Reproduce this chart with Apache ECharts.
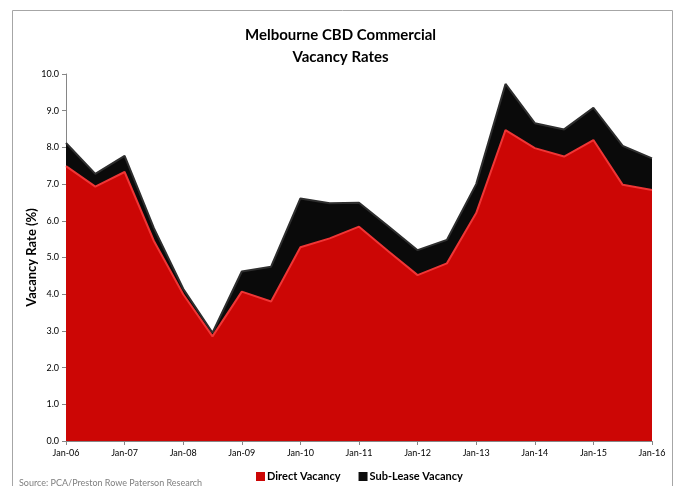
<!DOCTYPE html>
<html><head><meta charset="utf-8">
<script src="https://cdn.jsdelivr.net/npm/echarts@6/dist/echarts.min.js"></script>
<style>html,body{margin:0;padding:0;background:#fff}#c{width:681px;height:486px}</style>
</head><body><div id="c"></div>
<script>
const categories = ["Jan-06","Jul-06","Jan-07","Jul-07","Jan-08","Jul-08","Jan-09","Jul-09","Jan-10","Jul-10","Jan-11","Jul-11","Jan-12","Jul-12","Jan-13","Jul-13","Jan-14","Jul-14","Jan-15","Jul-15","Jan-16"];
const directVacancy = [7.49, 6.93, 7.33, 5.45, 4.0, 2.85, 4.07, 3.80, 5.28, 5.52, 5.84, 5.17, 4.52, 4.84, 6.21, 8.47, 7.98, 7.75, 8.20, 6.98, 6.84];
const subLeaseVacancy = [0.63, 0.35, 0.44, 0.35, 0.15, 0.10, 0.55, 0.95, 1.33, 0.96, 0.65, 0.68, 0.68, 0.64, 0.79, 1.26, 0.68, 0.74, 0.88, 1.06, 0.86];
const yTicks = [0,1,2,3,4,5,6,7,8,9,10];

const font = 'Lato, "Noto Sans", sans-serif';
const chart = echarts.init(document.getElementById('c'), null, {renderer:'canvas'});
chart.setOption({
  backgroundColor:'#fff',
  animation:false,
  graphic:[
    {type:'rect', shape:{x:12.5,y:10.5,width:660,height:490}, style:{fill:'none',stroke:'#a6a6a6',lineWidth:1}, silent:true},
    {type:'text', left:19, top:479, style:{text:'Source: PCA/Preston Rowe Paterson Research', fill:'#7f7f7f', font:'9px '+font}}
  ],
  title:{
    text:'Melbourne CBD Commercial\nVacancy Rates',
    left:'center', top:19,
    textStyle:{fontFamily:font, fontWeight:'bold', fontSize:15, color:'#000', lineHeight:22}
  },
  legend:{
    bottom:-1, left:251,
    itemWidth:9, itemHeight:9, itemGap:18,
    icon:'rect',
    textStyle:{fontFamily:font, fontWeight:'bold', fontSize:11, color:'#000', padding:[0,0,0,-3]},
    data:['Direct Vacancy','Sub-Lease Vacancy']
  },
  grid:{left:66, right:29, top:74, bottom:45},
  xAxis:{
    type:'category', data:categories, boundaryGap:false,
    axisLine:{lineStyle:{color:'#868686'}},
    axisTick:{interval:1, length:4, lineStyle:{color:'#868686'}},
    axisLabel:{interval:1, fontFamily:font, fontSize:9, color:'#000', margin:8}
  },
  yAxis:{
    type:'value', min:0, max:10, interval:1,
    name:'Vacancy Rate (%)', nameLocation:'middle', nameGap:28, nameMoveOverlap:false,
    nameTextStyle:{fontFamily:font, fontWeight:'bold', fontSize:13, color:'#000'},
    axisLine:{show:true, lineStyle:{color:'#868686'}},
    axisTick:{show:true, length:4, lineStyle:{color:'#868686'}},
    splitLine:{show:false},
    axisLabel:{fontFamily:font, fontSize:9, color:'#000', margin:7,
      formatter:v=>yTicks.includes(v)?v.toFixed(1):''}
  },
  series:[
    {name:'Direct Vacancy', type:'line', stack:'total', data:directVacancy,
     symbol:'none', itemStyle:{color:'#cc0605'},
     lineStyle:{color:'#f03535', width:2},
     areaStyle:{color:'#cc0605', opacity:1}, z:3},
    {name:'Sub-Lease Vacancy', type:'line', stack:'total', data:subLeaseVacancy,
     symbol:'none', itemStyle:{color:'#0d0d0d'},
     lineStyle:{color:'#2e2e2e', width:2},
     areaStyle:{color:'#0a0a0a', opacity:1}, z:2}
  ]
});
</script></body></html>
